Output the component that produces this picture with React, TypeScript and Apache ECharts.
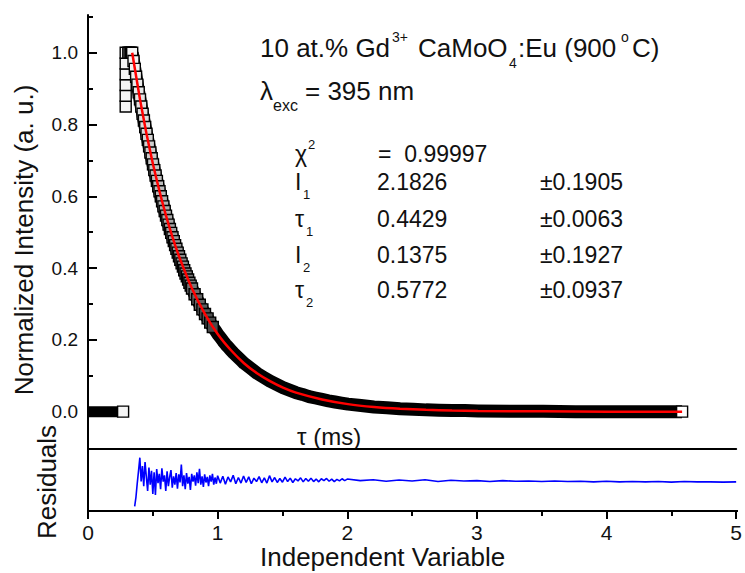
import React, { useEffect, useRef } from "react";
import * as echarts from "echarts";

// ---- data ----
// flat pre-pulse baseline (time in ms, normalized intensity)
const baselineT = [0, 0.02, 0.04, 0.06, 0.08, 0.1, 0.12, 0.14, 0.16, 0.18, 0.2, 0.22, 0.24];
const baselineI = [0, 0, 0, 0, 0, 0, 0, 0, 0, 0, 0, 0, 0];

// rising edge (open squares stacked near the peak)
const riseT = [0.27, 0.29, 0.29, 0.29, 0.29, 0.29, 0.29, 0.31, 0.32, 0.33];
const riseI = [0.0, 0.85, 0.88, 0.91, 0.94, 0.97, 1.0, 1.0, 1.0, 1.0];

// decay data
const decayT = [
  0.34, 0.35, 0.36, 0.37, 0.38, 0.39, 0.4, 0.41, 0.42, 0.43, 0.44, 0.45, 0.46, 0.47, 0.48, 0.49,
  0.5, 0.51, 0.52, 0.53, 0.54, 0.55, 0.56, 0.57, 0.58, 0.59, 0.6, 0.61, 0.62, 0.63, 0.64, 0.65,
  0.66, 0.67, 0.68, 0.69, 0.7, 0.71, 0.72, 0.73, 0.74, 0.75, 0.76, 0.77, 0.78, 0.79, 0.8,
  0.82, 0.84, 0.86, 0.88, 0.9, 0.92, 0.94, 0.96, 0.98, 1.0, 1.02, 1.04, 1.06, 1.08, 1.1, 1.12,
  1.14, 1.16, 1.18, 1.2, 1.25, 1.3, 1.35, 1.4, 1.45, 1.5, 1.55, 1.6, 1.65, 1.7, 1.75, 1.8, 1.85,
  1.9, 1.95, 2.0, 2.1, 2.2, 2.3, 2.4, 2.5, 2.6, 2.7, 2.8, 2.9, 3.0, 3.25, 3.5, 3.75, 4.0, 4.25, 4.57,
];
const decayI = [
  1.0, 0.977, 0.955, 0.933, 0.911, 0.89, 0.87, 0.85, 0.83, 0.811, 0.793, 0.774, 0.757, 0.739, 0.722, 0.706,
  0.689, 0.673, 0.658, 0.643, 0.628, 0.614, 0.6, 0.586, 0.572, 0.559, 0.546, 0.534, 0.521, 0.509, 0.498, 0.486,
  0.475, 0.464, 0.454, 0.443, 0.433, 0.423, 0.413, 0.404, 0.394, 0.385, 0.377, 0.368, 0.359, 0.351, 0.343,
  0.327, 0.313, 0.298, 0.285, 0.272, 0.26, 0.248, 0.236, 0.226, 0.215, 0.206, 0.196, 0.187, 0.179, 0.171, 0.163,
  0.156, 0.149, 0.142, 0.135, 0.121, 0.107, 0.096, 0.085, 0.076, 0.067, 0.06, 0.053, 0.048, 0.042, 0.038, 0.034, 0.03,
  0.027, 0.024, 0.021, 0.017, 0.013, 0.011, 0.008, 0.007, 0.005, 0.004, 0.003, 0.003, 0.002, 0.001, 0.001, 0.0, 0.0, 0.0, 0.0,
];

// fitted bi-exponential curve (red)
const fitT = [0.34, 0.4, 0.45, 0.5, 0.55, 0.6, 0.65, 0.7, 0.8, 0.9, 1.0, 1.1, 1.2, 1.3, 1.4, 1.5, 1.6, 1.8, 2.0, 2.2, 2.4, 2.6, 2.8, 3.0, 3.5, 4.0, 4.57];
const fitI = [1.0, 0.87, 0.774, 0.689, 0.614, 0.546, 0.486, 0.433, 0.343, 0.272, 0.215, 0.171, 0.135, 0.107, 0.085, 0.067, 0.053, 0.034, 0.021, 0.013, 0.008, 0.005, 0.003, 0.002, 0.001, 0.0, 0.0];

// residuals, sampled on three regular time grids
const resA_start = 0.36, resA_step = 0.01;
const resA = [
  -0.85, -0.55, -0.1, 0.3, 0.72, -0.05, 0.45, -0.2, 0.58, 0.1, -0.35, 0.4, -0.15, 0.3, -0.45, 0.25,
  -0.48, 0.35, -0.1, 0.2, -0.3, 0.38, -0.05, 0.15, -0.35, 0.28, -0.2, 0.1, 0.32, -0.25, 0.12, -0.15,
  0.22, -0.28, 0.18, -0.08, 0.5, -0.2, 0.15, -0.3, 0.22, -0.12, 0.1, -0.32, 0.2, -0.05, 0.15, -0.18,
  0.25, -0.1, 0.36, -0.15, 0.12, -0.22, 0.18, -0.08, 0.1, -0.2, 0.15, -0.05, 0.2, -0.15, 0.08, -0.12, 0.14,
];
const resB_start = 1.02, resB_step = 0.02;
const resB = [
  -0.1, 0.12, -0.14, 0.1, -0.06, 0.15, -0.12, 0.08, -0.1, 0.13,
  -0.08, 0.1, -0.12, 0.06, -0.05, 0.11, -0.09, 0.07, -0.1, 0.14,
  -0.06, 0.08, -0.08, 0.05, -0.07, 0.09, -0.05, 0.06, -0.08, 0.04,
  -0.03, 0.07, -0.06, 0.05, -0.04, 0.06, -0.05, 0.03, -0.06, 0.04,
  -0.02, 0.05, -0.04, 0.03, -0.05, 0.02, -0.03, 0.04, -0.02, 0.03,
];
const resC_start = 2.1, resC_step = 0.1;
const resC = [
  -0.02, 0.01, -0.04, 0.0, -0.03, 0.01, -0.05, -0.01, -0.03, -0.02,
  -0.05, -0.02, -0.04, -0.03, -0.05, -0.03, -0.05, -0.04, -0.06, -0.04,
  -0.06, -0.05, -0.06, -0.05, -0.07, -0.05, -0.06, -0.06, -0.07, -0.06,
];

const yMajor = [0, 0.2, 0.4, 0.6, 0.8, 1.0];
const yMinor = [0.1, 0.3, 0.5, 0.7, 0.9, 1.1];
const resMin = -1;
const resMax = 1;

const FONT = '"Liberation Sans", Arial, Helvetica, sans-serif';
const INK = "#111";

// residual panel frame (pixels)
const RES_LEFT = 88;
const RES_TOP = 449;
const RES_W = 650;
const RES_H = 62;

const pairs = (t: number[], v: number[]) => t.map((x, i) => [x, v[i]]);
const seg = (start: number, step: number, v: number[]) =>
  v.map((y, i) => [Math.round((start + i * step) * 1000) / 1000, y]);

function txt(text: string, x: number, y: number, size: number, extra: any = {}) {
  return {
    type: "text",
    x,
    y,
    silent: true,
    ...extra,
    style: {
      text,
      font: `${size}px ${FONT}`,
      fill: INK,
      align: extra.align || "left",
      verticalAlign: "middle",
    },
  };
}

const mkAxisLine = () => ({ show: true, onZero: false, lineStyle: { color: "#000", width: 2 } });

// square fill: the densely overlapping squares read lighter near the peak and darker down the decay
const squareFill = (t: number) => {
  if (t >= 4) return "#ffffff";
  const f = Math.min(1, Math.max(0, (t - 0.34) / 0.6));
  const g = Math.round(245 - f * 170);
  return `rgb(${g},${g},${g})`;
};

export default function App() {
  const ref = useRef<HTMLDivElement>(null);

  useEffect(() => {
    if (!ref.current) return;
    const chart = echarts.init(ref.current, undefined, { renderer: "svg" });

    const squares = [
      ...pairs(riseT, riseI),
      ...pairs(decayT, decayI).filter((p) => p[0] <= 0.96),
      [decayT[decayT.length - 1], decayI[decayI.length - 1]],
    ].map((p) => ({ value: p, itemStyle: { color: squareFill(p[0]) } }));
    const residuals = [
      ...seg(resA_start, resA_step, resA),
      ...seg(resB_start, resB_step, resB),
      ...seg(resC_start, resC_step, resC),
    ];

    chart.setOption({
      animation: false,
      backgroundColor: "#fff",
      grid: [
        { left: 88, width: 650, top: 15, height: 434 },
        { left: RES_LEFT, width: RES_W, top: RES_TOP, height: RES_H },
      ],
      xAxis: [
        { type: "value", gridIndex: 0, min: 0, max: 5, show: false },
        {
          type: "value",
          gridIndex: 1,
          min: 0,
          max: 5,
          interval: 1,
          position: "bottom",
          axisLine: mkAxisLine(),
          axisTick: { show: true, length: 8, lineStyle: { color: "#000", width: 2 } },
          axisLabel: { fontSize: 21, fontFamily: FONT, color: INK, margin: 11 },
          splitLine: { show: false },
        },
        {
          type: "value",
          gridIndex: 1,
          min: 0,
          max: 5,
          position: "top",
          axisLine: mkAxisLine(),
          axisTick: { show: false },
          axisLabel: { show: false },
          splitLine: { show: false },
        },
        {
          // minor ticks of the bottom axis (every 0.5)
          type: "value",
          gridIndex: 1,
          min: 0,
          max: 5,
          interval: 0.5,
          position: "bottom",
          axisLine: { show: false, onZero: false },
          axisTick: { show: true, length: 5, lineStyle: { color: "#000", width: 2 } },
          axisLabel: { show: false },
          splitLine: { show: false },
        },
      ],
      yAxis: [
        {
          type: "value",
          gridIndex: 0,
          min: -0.104,
          max: 1.105,
          position: "left",
          axisLine: mkAxisLine(),
          axisTick: { show: true, inside: true, length: 9, customValues: yMajor, lineStyle: { color: "#000", width: 2 } },
          axisLabel: {
            customValues: yMajor,
            formatter: (v: number) => v.toFixed(1),
            fontSize: 19,
            fontFamily: FONT,
            color: INK,
            margin: 10,
          },
          splitLine: { show: false },
        },
        {
          type: "value",
          gridIndex: 0,
          min: -0.104,
          max: 1.105,
          position: "left",
          axisLine: { show: false },
          axisTick: { show: true, inside: true, length: 5, customValues: yMinor, lineStyle: { color: "#000", width: 2 } },
          axisLabel: { show: false, customValues: yMinor },
          splitLine: { show: false },
        },
        {
          type: "value",
          gridIndex: 1,
          min: resMin,
          max: resMax,
          position: "left",
          axisLine: mkAxisLine(),
          axisTick: { show: false },
          axisLabel: { show: false },
          splitLine: { show: false },
        },
      ],
      series: [
        {
          type: "line",
          xAxisIndex: 0,
          yAxisIndex: 0,
          z: 1,
          data: pairs(baselineT, baselineI),
          symbol: "none",
          lineStyle: { color: "#000", width: 11, cap: "butt" },
          silent: true,
        },
        {
          type: "line",
          xAxisIndex: 0,
          yAxisIndex: 0,
          z: 1,
          data: pairs(decayT, decayI),
          symbol: "none",
          lineStyle: { color: "#000", width: 13, cap: "butt", join: "round" },
          silent: true,
        },
        {
          type: "scatter",
          xAxisIndex: 0,
          yAxisIndex: 0,
          z: 3,
          data: squares,
          symbol: "rect",
          symbolSize: 11,
          itemStyle: { borderColor: "#000", borderWidth: 1.4, opacity: 1 },
          silent: true,
        },
        {
          type: "line",
          xAxisIndex: 0,
          yAxisIndex: 0,
          z: 4,
          data: pairs(fitT, fitI),
          symbol: "none",
          smooth: 0.2,
          lineStyle: { color: "#ff0000", width: 2.5 },
          silent: true,
        },
        {
          type: "line",
          xAxisIndex: 1,
          yAxisIndex: 2,
          z: 4,
          data: residuals,
          symbol: "none",
          lineStyle: { color: "#0000ff", width: 1.6 },
          silent: true,
        },
      ],
      graphic: [
        // bottom frame line of the residual panel, kept on top of everything
        {
          type: "line",
          z: 100,
          silent: true,
          shape: { x1: RES_LEFT, y1: RES_TOP + RES_H, x2: RES_LEFT + RES_W, y2: RES_TOP + RES_H },
          style: { stroke: "#000", lineWidth: 2 },
        },
        // title
        txt("10 at.% Gd", 260, 48, 26),
        txt("3+", 392, 37, 14),
        txt("CaMoO", 418, 48, 26),
        txt("4", 509, 63, 14),
        txt(":Eu (900", 518, 48, 26),
        txt("o", 621, 37, 14),
        txt("C)", 632, 48, 26),
        // excitation
        txt("λ", 260, 91, 26),
        txt("exc", 273, 105, 16),
        txt("= 395 nm", 305, 91, 26),
        // fit table
        txt("χ", 295, 154, 23),
        txt("2", 308, 144, 13),
        txt("=  0.99997", 378, 154, 23),
        txt("I", 295, 182, 23),
        txt("1", 303, 194, 13),
        txt("2.1826", 377, 182, 23),
        txt("±0.1905", 540, 182, 23),
        txt("τ", 295, 219, 23),
        txt("1", 306, 231, 13),
        txt("0.4429", 377, 219, 23),
        txt("±0.0063", 540, 219, 23),
        txt("I", 295, 255, 23),
        txt("2", 303, 267, 13),
        txt("0.1375", 377, 255, 23),
        txt("±0.1927", 540, 255, 23),
        txt("τ", 295, 290, 23),
        txt("2", 306, 302, 13),
        txt("0.5772", 377, 290, 23),
        txt("±0.0937", 540, 290, 23),
        // axis titles
        txt("τ (ms)", 297, 436, 24),
        txt("Independent Variable", 260, 557, 26),
        txt("Normalized Intensity (a. u.)", 24, 240, 26, { rotation: Math.PI / 2, align: "center" }),
        txt("Residuals", 47, 482, 26, { rotation: Math.PI / 2, align: "center" }),
      ],
    });

    return () => chart.dispose();
  }, []);

  return (
    <div
      ref={ref}
      style={{ position: "fixed", left: 0, top: 0, width: 745, height: 573, background: "#fff" }}
    />
  );
}
